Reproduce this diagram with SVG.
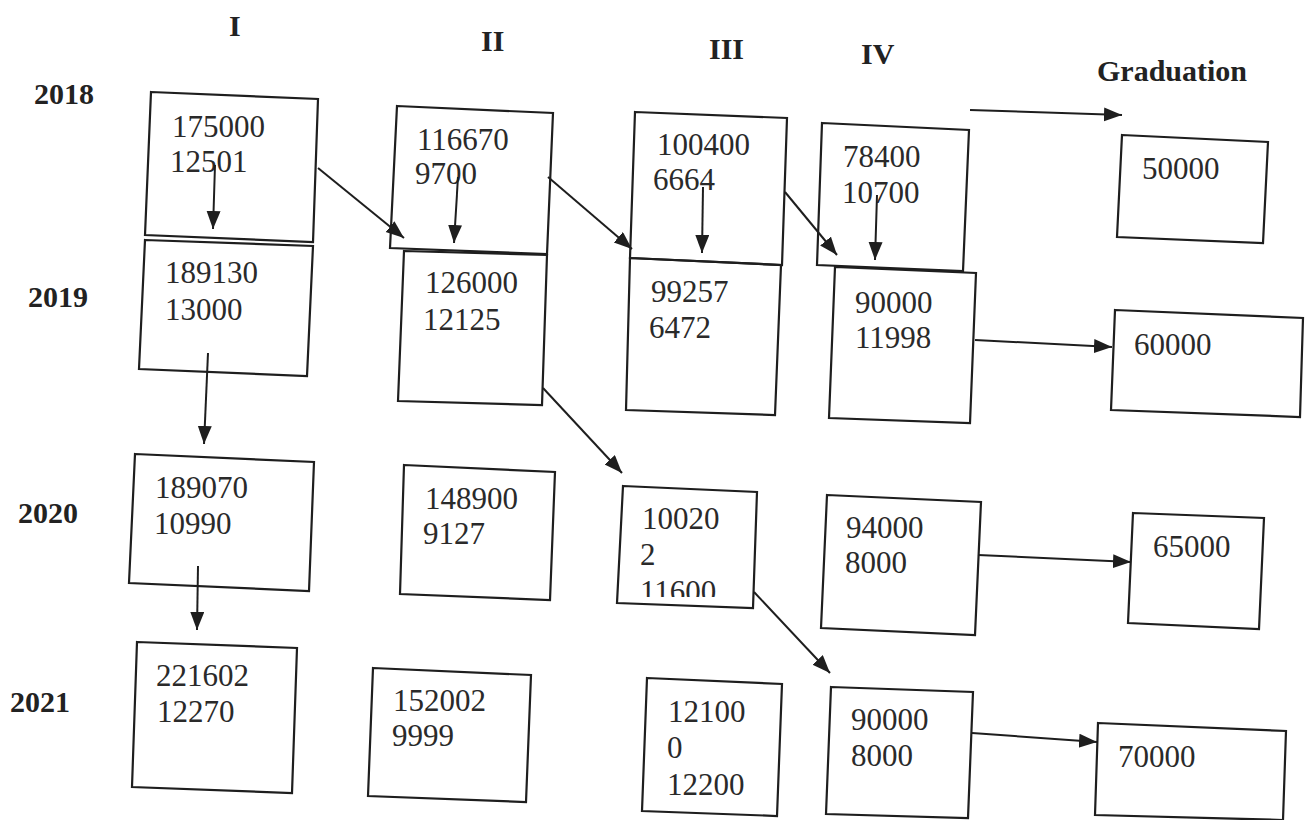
<svg xmlns="http://www.w3.org/2000/svg" width="1305" height="820" viewBox="0 0 1305 820">
<style>
.box{fill:none;stroke:#1e1e1e;stroke-width:2.2;stroke-linejoin:miter}
.num{font-family:"Liberation Serif","Times New Roman",serif;font-size:31px;fill:#2a2a2a}
.hdr{font-family:"Liberation Serif","Times New Roman",serif;font-size:30px;font-weight:bold;fill:#222}
.arr{stroke:#1e1e1e;stroke-width:2;fill:none;marker-end:url(#ah)}
</style>
<defs>
<marker id="ah" markerUnits="userSpaceOnUse" markerWidth="19" markerHeight="15" refX="18" refY="7" orient="auto">
<path d="M0,0 L18,7 L0,14 z" fill="#1e1e1e"/>
</marker>
<clipPath id="clip11600"><rect x="600" y="560" width="160" height="37"/></clipPath>
</defs>
<rect width="1305" height="820" fill="#ffffff"/>

<g id="headers">
<text class="hdr" x="229" y="36">I</text>
<text class="hdr" x="481" y="51">II</text>
<text class="hdr" x="709" y="59">III</text>
<text class="hdr" x="861" y="64">IV</text>
<text class="hdr" x="1097" y="81">Graduation</text>
<text class="hdr" x="34" y="104">2018</text>
<text class="hdr" x="28" y="307">2019</text>
<text class="hdr" x="18" y="523">2020</text>
<text class="hdr" x="10" y="712">2021</text>
</g>

<g id="n-2018-I">
<polygon class="box" points="151,92 318,99 313,242 145,235"/>
<text class="num" x="172" y="137">175000</text>
<text class="num" x="170" y="172">12501</text>
</g>
<g id="n-2019-I">
<polygon class="box" points="145,240 313,246 307,376 139,369"/>
<text class="num" x="165" y="283">189130</text>
<text class="num" x="165" y="320">13000</text>
</g>
<g id="n-2020-I">
<polygon class="box" points="135,454 314,462 309,591 129,583"/>
<text class="num" x="155" y="498">189070</text>
<text class="num" x="154" y="534">10990</text>
</g>
<g id="n-2021-I">
<polygon class="box" points="137,642 297,648 292,793 132,787"/>
<text class="num" x="156" y="686">221602</text>
<text class="num" x="157" y="722">12270</text>
</g>

<g id="n-2018-II">
<polygon class="box" points="397,106 553,113 547,254 390,248"/>
<text class="num" x="417" y="150">116670</text>
<text class="num" x="415" y="184">9700</text>
</g>
<g id="n-2019-II">
<polygon class="box" points="404,251 547,255 542,405 398,401"/>
<text class="num" x="425" y="293">126000</text>
<text class="num" x="423" y="330">12125</text>
</g>
<g id="n-2020-II">
<polygon class="box" points="404,465 555,472 550,600 400,594"/>
<text class="num" x="425" y="509">148900</text>
<text class="num" x="423" y="544">9127</text>
</g>
<g id="n-2021-II">
<polygon class="box" points="373,668 531,675 526,802 368,796"/>
<text class="num" x="393" y="711">152002</text>
<text class="num" x="392" y="746">9999</text>
</g>

<g id="n-2018-III">
<polygon class="box" points="635,112 787,118 782,265 630,258"/>
<text class="num" x="657" y="155">100400</text>
<text class="num" x="653" y="190">6664</text>
</g>
<g id="n-2019-III">
<polygon class="box" points="630,258 781,265 775,415 626,410"/>
<text class="num" x="651" y="302">99257</text>
<text class="num" x="649" y="338">6472</text>
</g>
<g id="n-2020-III">
<polygon class="box" points="623,486 757,492 753,608 617,603"/>
<text class="num" x="642" y="529">10020</text>
<text class="num" x="640" y="565">2</text>
<text class="num" x="640" y="602" clip-path="url(#clip11600)">11600</text>
</g>
<g id="n-2021-III">
<polygon class="box" points="647,678 782,684 777,816 642,811"/>
<text class="num" x="668" y="722">12100</text>
<text class="num" x="667" y="758">0</text>
<text class="num" x="667" y="795">12200</text>
</g>

<g id="n-2018-IV">
<polygon class="box" points="822,123 969,130 963,271 817,265"/>
<text class="num" x="843" y="167">78400</text>
<text class="num" x="842" y="203">10700</text>
</g>
<g id="n-2019-IV">
<polygon class="box" points="835,267 976,273 970,423 829,418"/>
<text class="num" x="855" y="313">90000</text>
<text class="num" x="855" y="348">11998</text>
</g>
<g id="n-2020-IV">
<polygon class="box" points="827,495 981,502 975,635 821,628"/>
<text class="num" x="846" y="538">94000</text>
<text class="num" x="845" y="573">8000</text>
</g>
<g id="n-2021-IV">
<polygon class="box" points="831,687 973,692 968,818 826,814"/>
<text class="num" x="851" y="730">90000</text>
<text class="num" x="851" y="766">8000</text>
</g>

<g id="n-grad-2018">
<polygon class="box" points="1122,135 1268,142 1263,243 1117,237"/>
<text class="num" x="1142" y="179">50000</text>
</g>
<g id="n-grad-2019">
<polygon class="box" points="1115,310 1303,318 1300,417 1111,410"/>
<text class="num" x="1134" y="355">60000</text>
</g>
<g id="n-grad-2020">
<polygon class="box" points="1133,513 1264,518 1259,629 1128,623"/>
<text class="num" x="1153" y="557">65000</text>
</g>
<g id="n-grad-2021">
<polygon class="box" points="1098,723 1286,731 1283,820 1095,815"/>
<text class="num" x="1118" y="767">70000</text>
</g>

<g id="connectors">
<line class="arr" x1="215" y1="165" x2="213" y2="229"/>
<line class="arr" x1="318" y1="168" x2="404" y2="238"/>
<line class="arr" x1="458" y1="177" x2="454" y2="243"/>
<line class="arr" x1="548" y1="177" x2="632" y2="249"/>
<line class="arr" x1="703" y1="187" x2="702" y2="253"/>
<line class="arr" x1="785" y1="192" x2="837" y2="255"/>
<line class="arr" x1="877" y1="195" x2="875" y2="260"/>
<line class="arr" x1="970" y1="110" x2="1122" y2="115"/>
<line class="arr" x1="208" y1="353" x2="204" y2="444"/>
<line class="arr" x1="198" y1="566" x2="197" y2="630"/>
<line class="arr" x1="543" y1="388" x2="622" y2="473"/>
<line class="arr" x1="754" y1="592" x2="830" y2="673"/>
<line class="arr" x1="975" y1="340" x2="1112" y2="347"/>
<line class="arr" x1="978" y1="555" x2="1131" y2="562"/>
<line class="arr" x1="972" y1="733" x2="1097" y2="742"/>
</g>
</svg>
